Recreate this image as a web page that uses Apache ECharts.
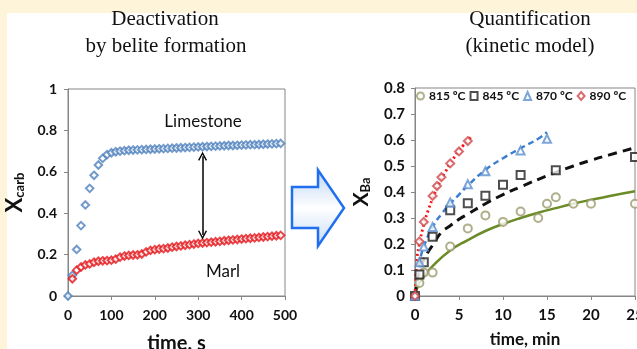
<!DOCTYPE html>
<html>
<head>
<meta charset="utf-8">
<script src="https://cdn.jsdelivr.net/npm/echarts@6/dist/echarts.min.js"></script>
<style>
  html, body { margin: 0; padding: 0; background: #fdf4da; }
  #panel { position: absolute; left: 7px; top: 13px; right: 0; bottom: 0; background: #fff; }
  #chart { position: absolute; left: 0; top: 0; width: 637px; height: 349px; }
</style>
</head>
<body>
<div id="panel"></div>
<div id="chart"></div>
<script>
// left chart: conversion vs time, s
var timeSec = [0, 10, 20, 30, 40, 50, 60, 70, 80, 90, 100, 110, 120, 130, 140, 150, 160, 170, 180, 190,
  200, 210, 220, 230, 240, 250, 260, 270, 280, 290, 300, 310, 320, 330, 340, 350, 360, 370, 380, 390,
  400, 410, 420, 430, 440, 450, 460, 470, 480, 490];
var limestone = [0, 0.10, 0.225, 0.34, 0.44, 0.52, 0.583, 0.633, 0.665, 0.683, 0.692, 0.697, 0.70, 0.702, 0.704, 0.705, 0.706, 0.707, 0.708, 0.709,
  0.710, 0.711, 0.712, 0.713, 0.714, 0.715, 0.716, 0.717, 0.718, 0.719, 0.720, 0.721, 0.722, 0.723, 0.724, 0.725, 0.726, 0.727, 0.727, 0.728,
  0.729, 0.730, 0.731, 0.731, 0.732, 0.733, 0.734, 0.735, 0.736, 0.737];
var marl = [null, 0.083, 0.125, 0.14, 0.15, 0.155, 0.163, 0.168, 0.17, 0.171, 0.173, 0.178, 0.188, 0.193, 0.196, 0.198, 0.199, 0.203, 0.213, 0.22,
  0.224, 0.227, 0.229, 0.232, 0.236, 0.239, 0.242, 0.245, 0.248, 0.251, 0.254, 0.256, 0.258, 0.26, 0.262, 0.264, 0.267, 0.269, 0.271, 0.273,
  0.275, 0.277, 0.279, 0.281, 0.283, 0.285, 0.287, 0.289, 0.291, 0.293];
// double arrow between the two curves (time, top, bottom)
var gapArrow = [310, 0.675, 0.295];

// right chart: X_Ba vs time, min
var t815 = [0, 0.5, 1, 2, 4, 6, 8, 10, 12, 14, 15, 16, 18, 20, 25];
var x815 = [0, 0.05, 0.09, 0.09, 0.19, 0.26, 0.31, 0.285, 0.325, 0.30, 0.355, 0.38, 0.355, 0.355, 0.355];
var t845 = [0, 0.5, 1, 2, 4, 6, 8, 10, 12, 16, 25];
var x845 = [0, 0.083, 0.13, 0.228, 0.33, 0.357, 0.386, 0.428, 0.465, 0.484, 0.535];
var t870 = [0, 0.5, 1, 2, 4, 6, 8, 12, 15];
var x870 = [0, 0.13, 0.19, 0.265, 0.36, 0.43, 0.48, 0.56, 0.605];
var t890 = [0, 0.5, 1, 2, 2.5, 3, 4, 5, 6];
var x890 = [0, 0.21, 0.285, 0.385, 0.423, 0.457, 0.51, 0.556, 0.596];

// model curves
var fitT815 = [0, 0.25, 0.5, 1, 2, 4, 6, 8, 10, 12, 14, 16, 18, 20, 22, 25];
var fitX815 = [0, 0.03, 0.05, 0.075, 0.115, 0.175, 0.215, 0.25, 0.277, 0.30, 0.32, 0.338, 0.355, 0.37, 0.384, 0.403];
var fitT845 = [0, 0.25, 0.5, 1, 1.5, 2, 3, 4, 5, 6, 8, 10, 12, 15, 18, 20, 22, 25];
var fitX845 = [0, 0.06, 0.095, 0.14, 0.17, 0.195, 0.245, 0.27, 0.295, 0.315, 0.355, 0.39, 0.42, 0.462, 0.50, 0.522, 0.542, 0.57];
var fitT870 = [0, 0.25, 0.5, 1, 2, 3, 4, 5, 6, 8, 10, 12, 14, 15];
var fitX870 = [0, 0.09, 0.13, 0.19, 0.265, 0.315, 0.355, 0.39, 0.425, 0.485, 0.53, 0.568, 0.605, 0.63];
var fitT890 = [0, 0.25, 0.5, 1, 1.5, 2, 2.5, 3, 3.5, 4, 4.5, 5, 5.5, 6, 6.4];
var fitX890 = [0, 0.15, 0.2, 0.275, 0.33, 0.375, 0.415, 0.45, 0.48, 0.51, 0.535, 0.56, 0.58, 0.598, 0.613];

var legendNames = ['815 ºC', '845 ºC', '870 ºC', '890 ºC'];

function pairs(xs, ys) {
  var out = [];
  for (var i = 0; i < xs.length; i++) {
    if (ys[i] !== null) out.push([xs[i], ys[i]]);
  }
  return out;
}

var FONT = 'Lato';
var GRAY = '#868686';
var SERIF = '"Liberation Serif", "DejaVu Serif", serif';

function axisCommon(size) {
  return {
    axisLine: { show: true, lineStyle: { color: GRAY, width: 1 } },
    axisTick: { show: true, length: 4, lineStyle: { color: GRAY } },
    splitLine: { show: false },
    axisLabel: { color: '#111', fontFamily: FONT, fontWeight: 'bold', fontSize: size }
  };
}

function mergeAxis(base, extra) {
  for (var k in extra) {
    if (typeof extra[k] === 'object' && base[k] && !Array.isArray(extra[k])) {
      for (var j in extra[k]) base[k][j] = extra[k][j];
    } else {
      base[k] = extra[k];
    }
  }
  return base;
}

var chevron = 'path://M0,10 L5,0 L10,10 L8.6,10.8 L5,3.2 L1.4,10.8 Z';

var myChart = echarts.init(document.getElementById('chart'), null, { renderer: 'canvas' });

var option = {
  animation: false,
  backgroundColor: 'transparent',
  grid: [
    { left: 68, top: 89, width: 217, height: 207, show: true, borderColor: GRAY, borderWidth: 1,
      backgroundColor: 'transparent', outerBoundsMode: 'none', containLabel: false },
    { left: 415, top: 88, width: 220, height: 208, show: true, borderColor: GRAY, borderWidth: 1,
      backgroundColor: 'transparent', outerBoundsMode: 'none', containLabel: false }
  ],
  xAxis: [
    mergeAxis(axisCommon(14), {
      type: 'value', gridIndex: 0, min: 0, max: 500, interval: 100,
      axisLabel: { margin: 12 },
      name: 'time, s', nameLocation: 'middle', nameGap: 38,
      nameTextStyle: { fontFamily: FONT, fontWeight: 'bold', fontSize: 20, color: '#111' }
    }),
    mergeAxis(axisCommon(15), {
      type: 'value', gridIndex: 1, min: 0, max: 25, interval: 5,
      axisLabel: { margin: 12 },
      name: 'time, min', nameLocation: 'middle', nameGap: 35,
      nameTextStyle: { fontFamily: FONT, fontWeight: 'bold', fontSize: 17, color: '#111' }
    })
  ],
  yAxis: [
    mergeAxis(axisCommon(14), {
      type: 'value', gridIndex: 0, min: 0, max: 1, interval: 0.2,
      axisLabel: { margin: 11 },
      name: '{x|X}{s|carb}', nameLocation: 'middle', nameGap: 42,
      nameTextStyle: {
        rich: {
          x: { fontFamily: FONT, fontWeight: 'bold', fontSize: 22, color: '#111' },
          s: { fontFamily: FONT, fontWeight: 'bold', fontSize: 13, color: '#111', verticalAlign: 'bottom' }
        }
      }
    }),
    mergeAxis(axisCommon(15), {
      type: 'value', gridIndex: 1, min: 0, max: 0.8, interval: 0.1,
      axisLabel: { margin: 10 },
      name: '{x|X}{s|Ba}', nameLocation: 'middle', nameGap: 43,
      nameTextStyle: {
        rich: {
          x: { fontFamily: FONT, fontWeight: 'bold', fontSize: 21, color: '#111' },
          s: { fontFamily: FONT, fontWeight: 'bold', fontSize: 13, color: '#111', verticalAlign: 'bottom' }
        }
      }
    })
  ],
  legend: {
    data: legendNames,
    left: 416, top: 90,
    padding: 0,
    itemWidth: 7, itemHeight: 8, itemGap: 4,
    textStyle: { fontFamily: FONT, fontWeight: 'bold', fontSize: 12, color: '#111' }
  },
  graphic: [
    { type: 'text', x: 165, y: 30, style: { text: 'Deactivation', font: '21px ' + SERIF, fill: '#111', textAlign: 'center', textVerticalAlign: 'bottom' } },
    { type: 'text', x: 166, y: 57, style: { text: 'by belite formation', font: '21px ' + SERIF, fill: '#111', textAlign: 'center', textVerticalAlign: 'bottom' } },
    { type: 'text', x: 530, y: 30, style: { text: 'Quantification', font: '21px ' + SERIF, fill: '#111', textAlign: 'center', textVerticalAlign: 'bottom' } },
    { type: 'text', x: 530, y: 57, style: { text: '(kinetic model)', font: '21px ' + SERIF, fill: '#111', textAlign: 'center', textVerticalAlign: 'bottom' } },
    { type: 'text', x: 203, y: 122, style: { text: 'Limestone', font: '17px ' + FONT, fill: '#111', textAlign: 'center', textVerticalAlign: 'middle' } },
    { type: 'text', x: 223, y: 272, style: { text: 'Marl', font: '17px ' + FONT, fill: '#111', textAlign: 'center', textVerticalAlign: 'middle' } },
    {
      type: 'polygon',
      shape: { points: [[292, 187], [318, 187], [318, 170], [344, 208], [318, 246], [318, 228], [292, 228]] },
      style: {
        fill: new echarts.graphic.LinearGradient(0, 0, 0, 1, [
          { offset: 0, color: '#bcd5f4' },
          { offset: 0.5, color: '#ffffff' },
          { offset: 1, color: '#c4dbf6' }
        ]),
        stroke: '#1f6ff0', lineWidth: 2.5, lineJoin: 'miter'
      }
    }
  ],
  series: [
    {
      name: 'Limestone', type: 'scatter', xAxisIndex: 0, yAxisIndex: 0,
      data: pairs(timeSec, limestone),
      symbol: 'emptyDiamond', symbolSize: 7.5,
      itemStyle: { color: '#4f81bd', borderWidth: 1.3 },
      markLine: {
        silent: true, animation: false,
        symbol: [chevron, chevron], symbolSize: [9, 9],
        label: { show: false },
        lineStyle: { color: '#000', width: 1.5, type: 'solid' },
        data: [[{ coord: [gapArrow[0], gapArrow[1]] }, { coord: [gapArrow[0], gapArrow[2]] }]]
      }
    },
    {
      name: 'Marl', type: 'scatter', xAxisIndex: 0, yAxisIndex: 0,
      data: pairs(timeSec, marl),
      symbol: 'emptyDiamond', symbolSize: 7.5,
      itemStyle: { color: '#e3161b', borderWidth: 1.3 }
    },
    {
      name: 'fit 815', type: 'line', xAxisIndex: 1, yAxisIndex: 1, smooth: true, showSymbol: false,
      data: pairs(fitT815, fitX815),
      lineStyle: { color: '#6a8b25', width: 2.5, type: 'solid' }, z: 1
    },
    {
      name: 'fit 845', type: 'line', xAxisIndex: 1, yAxisIndex: 1, smooth: true, showSymbol: false,
      data: pairs(fitT845, fitX845),
      lineStyle: { color: '#111', width: 3, type: [9, 6] }, z: 1
    },
    {
      name: 'fit 870', type: 'line', xAxisIndex: 1, yAxisIndex: 1, smooth: true, showSymbol: false,
      data: pairs(fitT870, fitX870),
      lineStyle: { color: '#3a7fd0', width: 2.5, type: [6, 4] }, z: 1
    },
    {
      name: 'fit 890', type: 'line', xAxisIndex: 1, yAxisIndex: 1, smooth: true, showSymbol: false,
      data: pairs(fitT890, fitX890),
      lineStyle: { color: '#ff1010', width: 2.8, type: [2, 3] }, z: 1
    },
    {
      name: legendNames[0], type: 'scatter', xAxisIndex: 1, yAxisIndex: 1,
      data: pairs(t815, x815), symbol: 'emptyCircle', symbolSize: 8,
      itemStyle: { color: '#9b9b6e', borderWidth: 1.2 }, z: 3
    },
    {
      name: legendNames[1], type: 'scatter', xAxisIndex: 1, yAxisIndex: 1,
      data: pairs(t845, x845), symbol: 'emptyRect', symbolSize: 8,
      itemStyle: { color: '#222', borderWidth: 1.2 }, z: 3
    },
    {
      name: legendNames[2], type: 'scatter', xAxisIndex: 1, yAxisIndex: 1,
      data: pairs(t870, x870), symbol: 'emptyTriangle', symbolSize: 8,
      itemStyle: { color: '#5b8ed0', borderWidth: 1.2 }, z: 3
    },
    {
      name: legendNames[3], type: 'scatter', xAxisIndex: 1, yAxisIndex: 1,
      data: pairs(t890, x890), symbol: 'emptyDiamond', symbolSize: 8,
      itemStyle: { color: '#d0474a', borderWidth: 1.2 }, z: 3
    }
  ]
};

myChart.setOption(option);

window.onresize = function () {
  myChart.resize();
};
</script>
</body>
</html>
